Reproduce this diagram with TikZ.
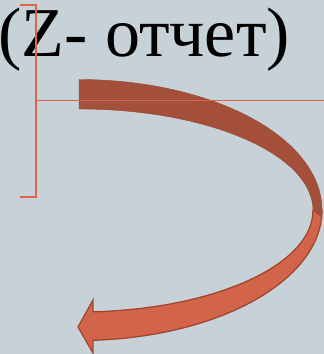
\documentclass[tikz,border=0pt]{standalone}
\usepackage{fontspec}
\setmainfont{Liberation Serif}
\usetikzlibrary{calc}
\definecolor{bg}{HTML}{C6D2D8}
\definecolor{darkband}{HTML}{A44F39}
\definecolor{lightband}{HTML}{D26549}
\definecolor{edge}{HTML}{A2452F}
\definecolor{rule}{HTML}{DB6548}
\tikzset{
  rulestyle/.style={draw=rule, line width=1.5pt},
  backband/.style={fill=darkband, draw=darkband!90!black, line width=0.4pt},
  frontband/.style={fill=lightband, draw=edge, line width=1.3pt, line join=miter},
  titletext/.style={font=\fontsize{70}{80}\selectfont, inner sep=0pt, anchor=base west, text=black}
}
\begin{document}
\begin{tikzpicture}[x=1pt,y=1pt]
\useasboundingbox (0,0) rectangle (324,354);
\clip (0,0) rectangle (324,354);
\fill[bg] (0,0) rectangle (324,354);
\node[titletext] (title) at (-2,297) {(Z- отчет)};
\coordinate (c1) at (79,144);
\coordinate (c2) at (79,143.5);
% front (lower) band with arrow head
\path[frontband] ($(c1)+(0:243 and 130.5)$)
  arc[start angle=0, end angle=-86.7, x radius=243, y radius=130.5]
  -- (93,1) -- (78,27) -- (93,54)
  -- ($(c2)+(-86.57:234 and 101.5)$)
  arc[start angle=-86.57, end angle=0, x radius=234, y radius=101.5]
  -- cycle;
% back (upper) band
\path[backband] ($(c1)+(90:243 and 130.5)$)
  arc[start angle=90, end angle=-3, x radius=243, y radius=130.5]
  -- ($(c2)+(0:234 and 101.5)$)
  arc[start angle=0, end angle=90, x radius=234, y radius=101.5]
  -- cycle;
% bracket and rule
\coordinate (bt) at (20,349);
\coordinate (bb) at (20,157);
\draw[rulestyle] (bt) -- (36,349) -- (36,157) -- (bb);
\coordinate (hl) at (36,253.5);
\coordinate (hr) at (324,253.5);
\draw[rulestyle] (hl) -- (hr);
\end{tikzpicture}
\end{document}
